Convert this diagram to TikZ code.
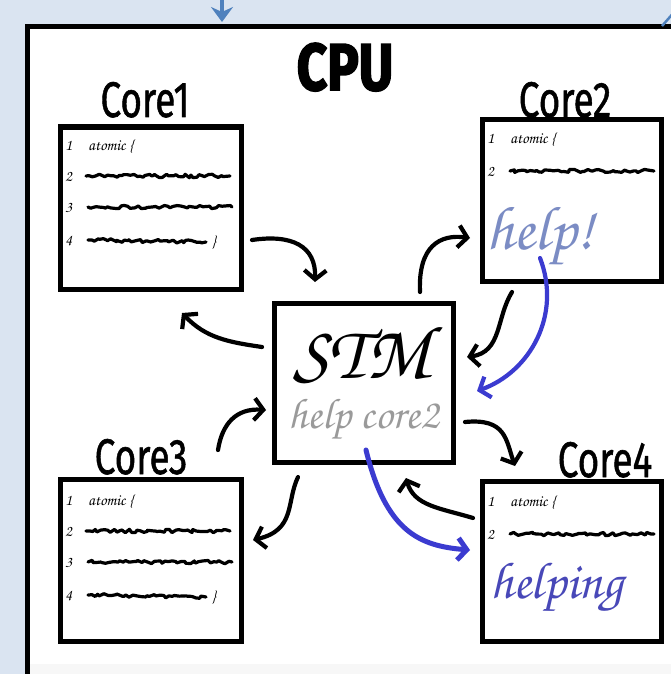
\documentclass[tikz,border=0pt]{standalone}
\usepackage{fontspec}
\usepackage{graphicx}
\setmainfont{Fira Sans}
\newfontfamily\cpuf{Fira Sans}[BoldFeatures={FakeBold=3}]
\newfontfamily\labf{Fira Sans}[FakeBold=1.2]
\newfontfamily\hand{texgyrechorus-mediumitalic.otf}
\usetikzlibrary{decorations.pathmorphing,arrows.meta}
\definecolor{bgblue}{HTML}{DAE4F1}
\definecolor{helpblue}{HTML}{7B8CC4}
\definecolor{helpingblue}{HTML}{4848B8}
\definecolor{arrowblue}{HTML}{3B3BD0}
\definecolor{topblue}{HTML}{4F81BD}
\definecolor{stmgray}{HTML}{9A9A9A}
\tikzset{
  corebox/.style={draw=black, line width=5pt, fill=white, anchor=north west, inner sep=0pt, outer sep=0pt},
  lbl/.style={font=\labf\fontsize{50}{50}\selectfont, anchor=base, inner sep=0pt},
  num/.style={font=\hand\fontsize{16}{16}\selectfont, anchor=base west, inner sep=0pt},
  squig/.style={decorate, decoration={random steps, segment length=3pt, amplitude=1.7pt}, line width=3.2pt, line cap=round, line join=round},
  harrow/.style={line width=4.2pt, line cap=round, -{Straight Barb[length=9pt,width=22pt]}},
  barrow/.style={harrow, draw=arrowblue},
  codefour/.pic={
    \node[num] (-n1) at (5,23) {1};
    \node[num] (-a) at (28,23) {atomic \{};
    \node[num] (-n2) at (5,54) {2};
    \draw[squig] (26,49) -- (170,49);
    \node[num] (-n3) at (5,85) {3};
    \draw[squig] (28,80) -- (172,80);
    \node[num] (-n4) at (5,118) {4};
    \draw[squig] (28,113) -- (146,115);
    \node[num] (-b) at (152,119) {\}};
  },
  codetwo/.pic={
    \node[num] (-n1) at (5,23) {1};
    \node[num] (-a) at (28,23) {atomic \{};
    \node[num] (-n2) at (5,56) {2};
    \draw[squig] (28,51) -- (172,51);
  },
}
\begin{document}
\pgfmathsetseed{7}
\begin{tikzpicture}[x=1pt,y=-1pt]
\fill[bgblue] (0,0) rectangle (671,674);
\useasboundingbox (0,0) rectangle (671,674);
\clip (0,0) rectangle (671,674);
% CPU frame
\draw[line width=4.5pt, fill=white] (27.5,26.5) rectangle (720,720);
\fill[black!3] (30,664) rectangle (671,674);
% incoming blue arrows
\coordinate (ta) at (222,-4);
\coordinate (tb) at (222,22);
\draw[topblue, line width=4pt, -{Stealth[length=15pt,width=22pt,inset=5pt]}] (ta) -- (tb);
\coordinate (tc) at (662,26);
\coordinate (td) at (676,10);
\draw[topblue, line width=2.5pt] (tc) -- (td);
% title
\node[anchor=base, inner sep=0pt] (cpu) at (345,90) {\cpuf\bfseries\fontsize{66}{66}\selectfont\scalebox{0.8}[1]{CPU}};
% labels
\node[lbl] (l1) at (145,117) {\scalebox{0.74}[1]{Core1}};
\node[lbl] (l2) at (565,117) {\scalebox{0.74}[1]{Core2}};
\node[lbl] (l3) at (141,474) {\scalebox{0.74}[1]{Core3}};
\node[lbl] (l4) at (605,477) {\scalebox{0.74}[1]{Core4}};
% boxes
\node[corebox, minimum width=181pt, minimum height=162pt] (c1) at (60,127) {};
\node[corebox, minimum width=179pt, minimum height=161pt] (c2) at (482,120) {};
\node[corebox, minimum width=181pt, minimum height=162pt] (c3) at (60,479) {};
\node[corebox, minimum width=179pt, minimum height=160pt] (c4) at (482,481) {};
\node[corebox, minimum width=179pt, minimum height=159pt] (stm) at (274,303) {};
% code
\pic (p1) at (c1.north west) {codefour};
\pic (p3) at ([yshift=-3pt]c3.north west) {codefour};
\pic (p2) at (c2.north west) {codetwo};
\pic (p4) at ([yshift=-2pt]c4.north west) {codetwo};
% texts
\node[anchor=base, inner sep=0pt, font=\hand\fontsize{76}{76}\selectfont] (stmt) at (362,378) {STM};
\node[anchor=base, inner sep=0pt, text=stmgray, font=\hand\fontsize{43}{43}\selectfont] (hc) at (364,428) {help core2};
\node[anchor=base west, inner sep=0pt, text=helpblue, font=\hand\fontsize{62}{62}\selectfont] (help) at (486,249) {help!};
\node[anchor=base west, inner sep=0pt, text=helpingblue, font=\hand\fontsize{52}{52}\selectfont] (helping) at (490,598) {helping};
% black arrows
\coordinate (a1s) at (252,240); \coordinate (a1t) at (315,282);
\coordinate (a2s) at (262,347); \coordinate (a2t) at (182,313);
\coordinate (a3s) at (420,292); \coordinate (a3t) at (470,238);
\coordinate (a4s) at (512,292); \coordinate (a4t) at (467,357);
\coordinate (a5s) at (465,422); \coordinate (a5t) at (515,466);
\coordinate (a6s) at (473,518); \coordinate (a6t) at (406,478);
\coordinate (a7s) at (298,477); \coordinate (a7t) at (253,540);
\coordinate (a8s) at (218,450); \coordinate (a8t) at (266,410);
\draw[harrow] (a1s) .. controls (292,234) and (316,246) .. (a1t);
\draw[harrow] (a2s) .. controls (228,342) and (206,338) .. (a2t);
\draw[harrow] (a3s) .. controls (418,246) and (440,234) .. (a3t);
\draw[harrow] (a4s) .. controls (496,318) and (502,352) .. (a4t);
\draw[harrow] (a5s) .. controls (506,418) and (506,440) .. (a5t);
\draw[harrow] (a6s) .. controls (440,508) and (414,506) .. (a6t);
\draw[harrow] (a7s) .. controls (286,502) and (296,530) .. (a7t);
\draw[harrow] (a8s) .. controls (222,424) and (236,408) .. (a8t);
% blue arrows
\coordinate (b1s) at (540,258); \coordinate (b1t) at (477,391);
\coordinate (b2s) at (366,450); \coordinate (b2t) at (470,550);
\draw[barrow] (b1s) .. controls (562,315) and (530,372) .. (b1t);
\draw[barrow, line width=5pt] (b2s) .. controls (386,532) and (420,546) .. (b2t);
\end{tikzpicture}
\end{document}
